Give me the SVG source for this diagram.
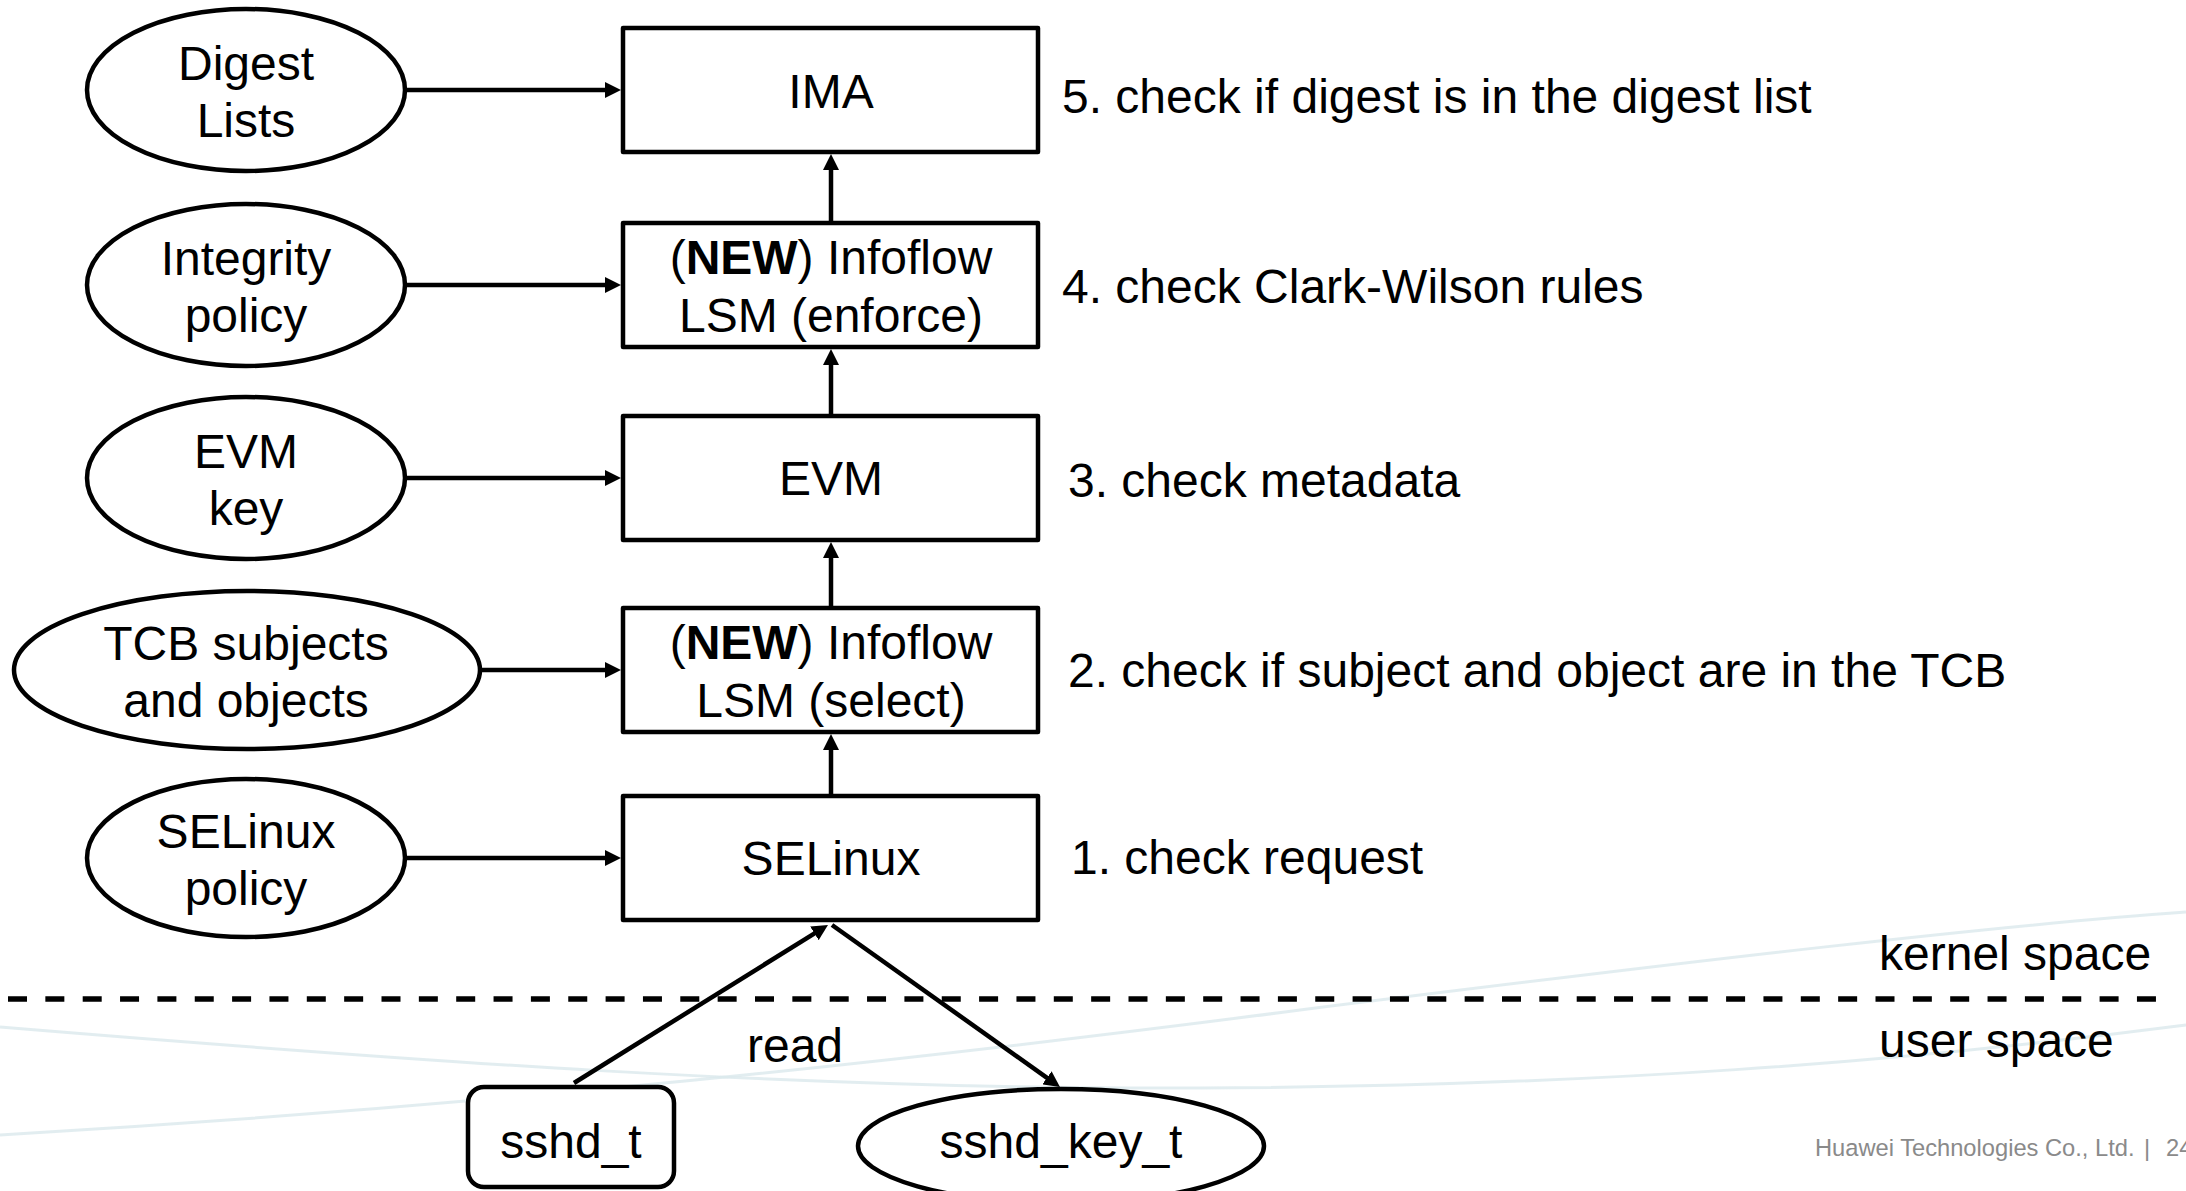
<svg xmlns="http://www.w3.org/2000/svg" width="2186" height="1191" viewBox="0 0 2186 1191">
  <defs>
    <style>
      .t { font-family: "Liberation Sans", Arial, sans-serif; font-size: 48px; fill: #000; }
      .c { text-anchor: middle; }
      .shape { fill: #fff; stroke: #000; stroke-width: 4.5; stroke-linejoin: round; }
      .edge { fill: none; stroke: #000; stroke-width: 4.5; marker-end: url(#arrow); }
      .swoosh { fill: none; stroke: #dbe8ec; stroke-width: 3; opacity: 0.8; }
      .foot { font-family: "Liberation Sans", Arial, sans-serif; font-size: 23.7px; fill: #8a8a8a; }
    </style>
    <marker id="arrow" viewBox="0 0 16 16" refX="4" refY="8" markerWidth="16" markerHeight="16" markerUnits="userSpaceOnUse" orient="auto">
      <path d="M0,0 L16,8 L0,16 z" fill="#000"/>
    </marker>
  </defs>

  <rect width="2186" height="1191" fill="#fff"/>

  <!-- faint template swooshes in the lower band -->
  <g id="background">
    <path class="swoosh" d="M0,1027 C400,1060 800,1090 1200,1088 C1600,1086 1900,1062 2186,1025"/>
    <path class="swoosh" d="M0,1135 C500,1105 900,1062 1300,1010 C1700,960 2000,925 2186,912"/>
  </g>

  <!-- kernel / user boundary -->
  <g id="boundary">
    <line x1="8" y1="999" x2="2157" y2="999" stroke="#000" stroke-width="5.5" stroke-dasharray="19 18.35"/>
    <text class="t" x="1879" y="970">kernel space</text>
    <text class="t" x="1879" y="1057">user space</text>
  </g>

  <!-- connectors -->
  <g id="connectors">
    <!-- inputs into each layer -->
    <line class="edge" x1="405" y1="90" x2="609" y2="90"/>
    <line class="edge" x1="405" y1="285" x2="609" y2="285"/>
    <line class="edge" x1="405" y1="478" x2="609" y2="478"/>
    <line class="edge" x1="480" y1="670" x2="609" y2="670"/>
    <line class="edge" x1="405" y1="858" x2="609" y2="858"/>
    <!-- chain upward between layers -->
    <line class="edge" x1="831" y1="221" x2="831" y2="166"/>
    <line class="edge" x1="831" y1="414" x2="831" y2="361"/>
    <line class="edge" x1="831" y1="606" x2="831" y2="554"/>
    <line class="edge" x1="831" y1="794" x2="831" y2="746"/>
    <!-- read request -->
    <line class="edge" x1="574" y1="1083" x2="817.8" y2="931.3"/>
    <line class="edge" x1="832" y1="925" x2="1050.2" y2="1080.1"/>
    <text class="t c" x="795" y="1062">read</text>
  </g>

  <!-- policy / data inputs -->
  <g id="digest-lists">
    <ellipse class="shape" cx="246" cy="90" rx="159" ry="81"/>
    <text class="t c" x="246" y="80">Digest</text>
    <text class="t c" x="246" y="137">Lists</text>
  </g>
  <g id="integrity-policy">
    <ellipse class="shape" cx="246" cy="285" rx="159" ry="81"/>
    <text class="t c" x="246" y="275">Integrity</text>
    <text class="t c" x="246" y="332">policy</text>
  </g>
  <g id="evm-key">
    <ellipse class="shape" cx="246" cy="478" rx="159" ry="81"/>
    <text class="t c" x="246" y="468">EVM</text>
    <text class="t c" x="246" y="525">key</text>
  </g>
  <g id="tcb">
    <ellipse class="shape" cx="247" cy="670" rx="233" ry="79"/>
    <text class="t c" x="246" y="660">TCB subjects</text>
    <text class="t c" x="246" y="717">and objects</text>
  </g>
  <g id="selinux-policy">
    <ellipse class="shape" cx="246" cy="858" rx="159" ry="79"/>
    <text class="t c" x="246" y="848">SELinux</text>
    <text class="t c" x="246" y="905">policy</text>
  </g>

  <!-- kernel layers -->
  <g id="ima">
    <rect class="shape" x="623" y="28" width="415" height="124"/>
    <text class="t c" x="831" y="108">IMA</text>
  </g>
  <g id="infoflow-enforce">
    <rect class="shape" x="623" y="223" width="415" height="124"/>
    <text class="t c" x="831" y="274">(<tspan font-weight="bold">NEW</tspan>) Infoflow</text>
    <text class="t c" x="831" y="332">LSM (enforce)</text>
  </g>
  <g id="evm">
    <rect class="shape" x="623" y="416" width="415" height="124"/>
    <text class="t c" x="831" y="495">EVM</text>
  </g>
  <g id="infoflow-select">
    <rect class="shape" x="623" y="608" width="415" height="124"/>
    <text class="t c" x="831" y="659">(<tspan font-weight="bold">NEW</tspan>) Infoflow</text>
    <text class="t c" x="831" y="717">LSM (select)</text>
  </g>
  <g id="selinux">
    <rect class="shape" x="623" y="796" width="415" height="124"/>
    <text class="t c" x="831" y="875">SELinux</text>
  </g>

  <!-- user-space subject and object -->
  <g id="sshd-t">
    <rect class="shape" x="468" y="1087" width="206" height="100" rx="16"/>
    <text class="t c" x="571" y="1158">sshd_t</text>
  </g>
  <g id="sshd-key-t">
    <ellipse class="shape" cx="1061" cy="1146" rx="203" ry="57"/>
    <text class="t c" x="1061" y="1158">sshd_key_t</text>
  </g>

  <!-- step descriptions -->
  <g id="steps">
    <text class="t" x="1062" y="113">5. check if digest is in the digest list</text>
    <text class="t" x="1062" y="303">4. check Clark-Wilson rules</text>
    <text class="t" x="1068" y="497">3. check metadata</text>
    <text class="t" x="1068" y="687">2. check if subject and object are in the TCB</text>
    <text class="t" x="1071" y="874">1. check request</text>
  </g>

  <!-- footer (page number runs off the right edge) -->
  <g id="footer">
    <text class="foot" x="1815" y="1156">Huawei Technologies Co., Ltd.</text>
    <text class="foot" x="2144" y="1156">|</text>
    <text class="foot" x="2166" y="1156">24</text>
  </g>
</svg>
